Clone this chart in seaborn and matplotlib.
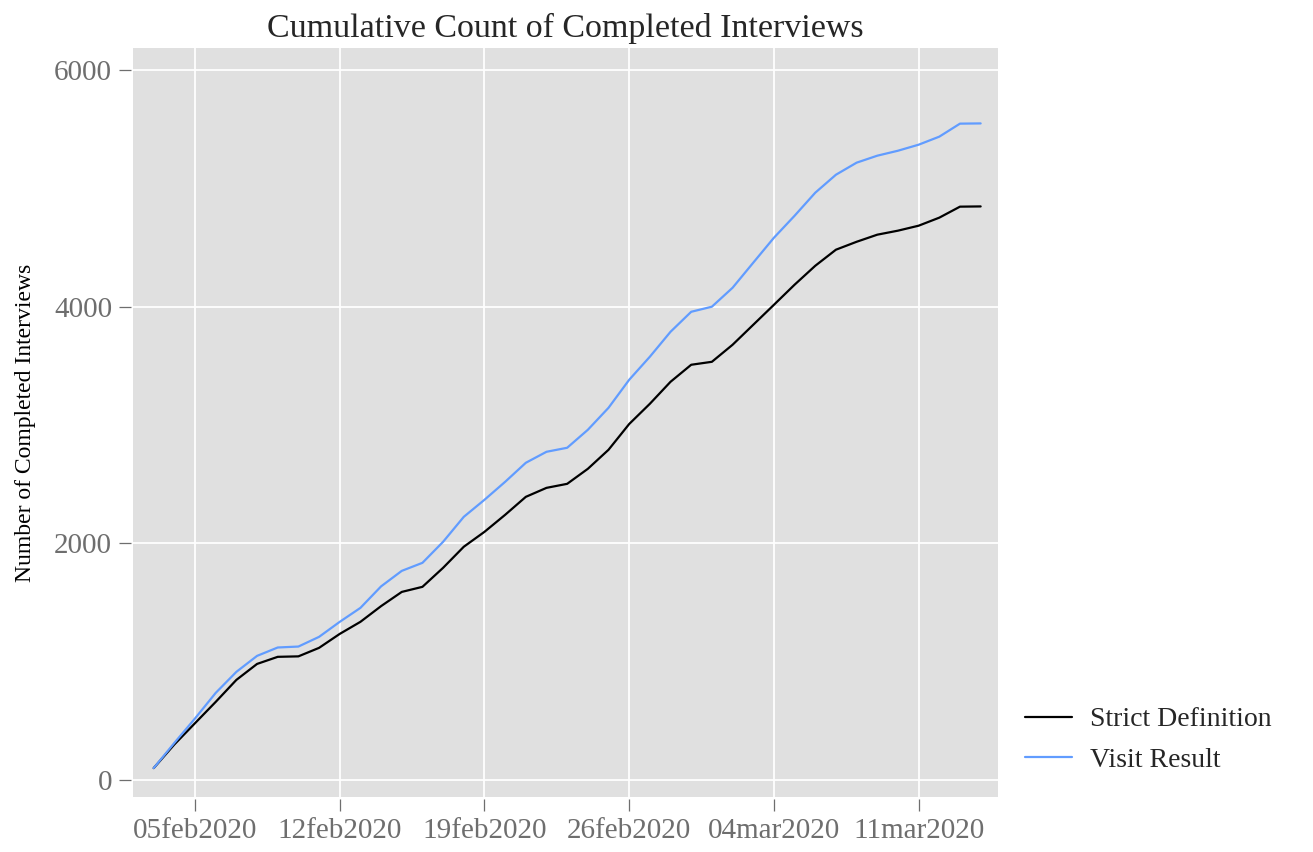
import pandas as pd
import matplotlib
matplotlib.use("Agg")
import matplotlib.pyplot as plt
import matplotlib.dates as mdates
import seaborn as sns

# Daily dates, 03feb2020 .. 14mar2020
dates = pd.date_range("2020-02-03", "2020-03-14", freq="D")

strict = [100, 300, 480, 660, 846, 981, 1041, 1045, 1117, 1235,
          1337, 1470, 1590, 1633, 1794, 1972, 2098, 2242, 2394, 2470,
          2504, 2631, 2792, 3010, 3181, 3367, 3511, 3536, 3680, 3849,
          4018, 4188, 4348, 4484, 4551, 4611, 4645, 4687, 4755, 4848,
          4850]
visit = [100, 313, 520, 736, 914, 1049, 1120, 1128, 1210, 1337,
         1455, 1637, 1768, 1836, 2014, 2225, 2369, 2521, 2682, 2775,
         2809, 2961, 3147, 3384, 3579, 3790, 3959, 4002, 4162, 4374,
         4585, 4771, 4966, 5118, 5220, 5279, 5321, 5372, 5440, 5550,
         5552]

labels = ["Strict Definition", "Visit Result"]
tick_dates = ["2020-02-05", "2020-02-12", "2020-02-19", "2020-02-26",
              "2020-03-04", "2020-03-11"]

df = pd.DataFrame({
    "date": list(dates) * 2,
    "count": strict + visit,
    "series": [labels[0]] * len(dates) + [labels[1]] * len(dates),
})

sns.set_theme(style="darkgrid", rc={
    "axes.facecolor": "#E0E0E0",
    "grid.color": "white",
    "grid.linewidth": 1.3,
})
plt.rcParams["font.family"] = ["Liberation Serif", "DejaVu Serif"]

fig = plt.figure(figsize=(13.13, 8.52), dpi=100)
ax = fig.add_axes([0.1013, 0.0646, 0.6587, 0.8791])

sns.lineplot(data=df, x="date", y="count", hue="series",
             palette={labels[0]: "black", labels[1]: "#619CFF"},
             linewidth=1.6, ax=ax)

ax.set_xlim(pd.Timestamp("2020-02-02"), pd.Timestamp("2020-03-14 20:00"))
ax.set_ylim(-144, 6190)
ax.set_xticks(pd.to_datetime(tick_dates))
ax.xaxis.set_major_formatter(
    matplotlib.ticker.FuncFormatter(lambda v, p: mdates.num2date(v).strftime("%d%b%Y").lower()))
ax.set_yticks([0, 2000, 4000, 6000])

# small gap between panel and tick marks
for side in ["left", "bottom"]:
    ax.spines[side].set_position(("outward", 1.5))
for s in ax.spines.values():
    s.set_visible(False)
ax.tick_params(axis="both", which="major", labelsize=21, labelcolor="#6E6E6E",
               color="#6E6E6E", length=8.5, width=0.9, direction="out",
               pad=5, bottom=True, left=True)
ax.set_xlabel("")
ax.set_ylabel("Number of Completed Interviews", fontsize=17, color="black",
              labelpad=13)
ax.set_title("Cumulative Count of Completed Interviews", fontsize=24.5, pad=8)

leg = ax.legend(loc="lower left", bbox_to_anchor=(1.018, 0.017), frameon=False,
                fontsize=20, handlelength=1.7, handletextpad=0.65,
                labelspacing=0.55, borderaxespad=0.0, title=None)

fig.savefig("out.png", dpi=100)
